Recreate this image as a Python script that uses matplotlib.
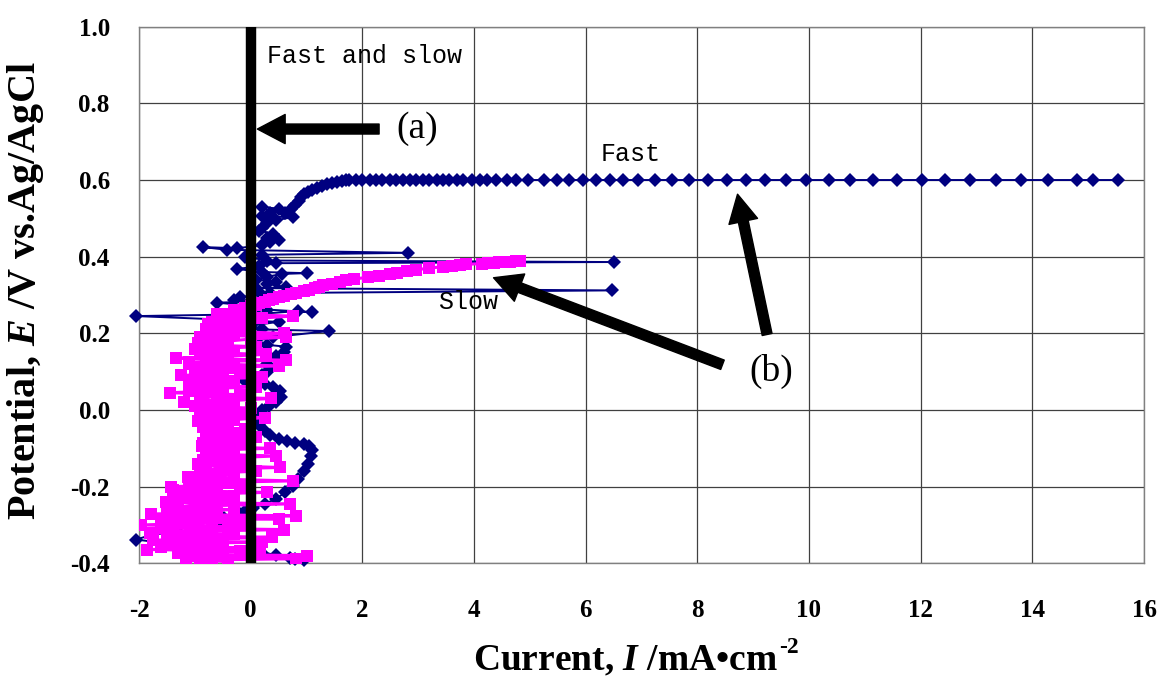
import matplotlib
matplotlib.use("Agg")
import matplotlib.pyplot as plt

plt.rcParams['font.family'] = ['Liberation Serif', 'DejaVu Serif']
plt.rcParams['axes.unicode_minus'] = False
plt.rcParams['mathtext.fontset'] = 'custom'
plt.rcParams['mathtext.rm'] = 'Liberation Serif:bold'
plt.rcParams['mathtext.it'] = 'Liberation Serif:italic:bold'
plt.rcParams['mathtext.bf'] = 'Liberation Serif:bold'

# ---------------- data ----------------
x_ticks = [-2, 0, 2, 4, 6, 8, 10, 12, 14, 16]
x_tick_labels = ['-2', '0', '2', '4', '6', '8', '10', '12', '14', '16']
y_ticks = [-0.4, -0.2, 0.0, 0.2, 0.4, 0.6, 0.8, 1.0]
y_tick_labels = ['-0.4', '-0.2', '0.0', '0.2', '0.4', '0.6', '0.8', '1.0']

# "Fast" scan (navy diamonds)
fast_I = [0.95, 0.80, 0.70, 0.46, 0.21, 0.00, -0.70, -1.40, -2.05, -1.76,
          -1.30, -0.90, -0.50, -0.47, -0.20, -0.08, 0.05, 0.25, 0.45, 0.62,
          0.75, 0.85, 0.95, 1.02, 1.08, 1.10, 1.05, 0.95, 0.80, 0.65,
          0.50, 0.35, 0.25, 0.15, 0.10, 0.12, 0.20, 0.32, 0.45, 0.55,
          0.52, 0.40, 0.25, 0.05, -0.10, 0.05, 0.20, 0.30, 0.35, 0.30,
          0.28, 0.45, 0.60, 0.64, 0.30, 0.10, 0.40, 1.40, 0.20, 0.00,
          0.50, -2.05, 0.10, 0.84, 1.10, 0.30, 0.15, -0.60, 0.25, -0.30, -0.20, 0.20, 0.35,
          6.47, 0.10, 0.64, 0.30, 0.45, 0.10, 0.30, 0.57, 1.00, 0.20, -0.24, 0.15, 0.46,
          6.50, 0.30, -0.11, 0.20, 2.81, -0.43, -0.85, -0.24, 0.20, 0.35, 0.51, 0.30, 0.40, 0.15,
          0.20, 0.30, 0.45, 0.75, 0.20, 0.35, 0.21,
          0.50, 0.62, 0.72, 0.80, 0.87, 0.90, 0.95, 1.02, 1.10, 1.18,
          1.27, 1.36, 1.45, 1.54, 1.63, 1.70,
          1.77, 1.89, 2.00, 2.13, 2.25, 2.36, 2.49, 2.61, 2.72, 2.85,
          2.97, 3.08, 3.20, 3.33, 3.44, 3.56, 3.69, 3.80, 3.96, 4.10,
          4.24, 4.40, 4.59, 4.76, 4.96, 5.26, 5.49, 5.71, 5.95, 6.19,
          6.43, 6.66, 6.93, 7.24, 7.54, 7.85, 8.19, 8.54, 8.87, 9.22,
          9.58, 9.94, 10.35, 10.73, 11.14, 11.57, 12.02, 12.43, 12.88, 13.35,
          13.79, 14.28, 14.80, 15.08, 15.53]
fast_E = [-0.392, -0.388, -0.385, -0.378, -0.372, -0.368, -0.360, -0.350, -0.338, -0.325,
          -0.318, -0.308, -0.298, -0.282, -0.272, -0.262, -0.255, -0.245, -0.232, -0.215,
          -0.198, -0.180, -0.160, -0.140, -0.120, -0.104, -0.095, -0.090, -0.087, -0.082,
          -0.075, -0.066, -0.055, -0.040, -0.026, -0.012, 0.000, 0.010, 0.020, 0.035,
          0.050, 0.060, 0.068, 0.072, 0.075, 0.082, 0.090, 0.100, 0.110, 0.120,
          0.130, 0.140, 0.150, 0.165, 0.170, 0.180, 0.190, 0.206, 0.210, 0.220,
          0.230, 0.245, 0.250, 0.258, 0.255, 0.262, 0.270, 0.280, 0.284, 0.288, 0.295, 0.300, 0.305,
          0.312, 0.318, 0.320, 0.330, 0.335, 0.340, 0.348, 0.355, 0.357, 0.360, 0.368, 0.375, 0.383,
          0.386, 0.390, 0.400, 0.405, 0.410, 0.418, 0.425, 0.422, 0.430, 0.437, 0.443, 0.450, 0.460, 0.468,
          0.475, 0.487, 0.495, 0.503, 0.505, 0.515, 0.530,
          0.525, 0.515, 0.525, 0.535, 0.546, 0.556, 0.563, 0.569, 0.575, 0.580,
          0.585, 0.589, 0.592, 0.595, 0.598, 0.599,
          0.600, 0.600, 0.600, 0.600, 0.600, 0.600, 0.600, 0.600, 0.600, 0.600,
          0.600, 0.600, 0.600, 0.600, 0.600, 0.600, 0.600, 0.600, 0.600, 0.600,
          0.600, 0.600, 0.600, 0.600, 0.600, 0.600, 0.600, 0.600, 0.600, 0.600,
          0.600, 0.600, 0.600, 0.600, 0.600, 0.600, 0.600, 0.600, 0.600, 0.600,
          0.600, 0.600, 0.600, 0.600, 0.600, 0.600, 0.600, 0.600, 0.600, 0.600,
          0.600, 0.600, 0.600, 0.600, 0.600]

# "Slow" scan (magenta squares)
slow_I = [-0.30, -0.60, -0.20, -0.70, -0.40, -0.80, -0.30, -0.90, -0.50, -0.70,
          -1.00, -0.40, -0.80, -0.60, -1.10, -0.30, -0.90, -0.70, -1.00, -0.40,
          -0.80, -1.10, -0.50, -0.90, -0.60, -0.80, -0.30, -0.70, -0.50, -0.80,
          -0.40, -0.70, -0.50, -0.80, -0.60, -0.30, -0.70, -0.50, -0.75, -0.40,
          -0.80, -0.50, -0.90, -0.60, -1.00, -0.40, -1.10, -0.70, -1.20, -0.50,
          -1.30, -0.80, -1.40, -0.60, -1.50, -1.00, -1.60, -0.70, -1.40, -1.10,
          -1.50, -0.80, -1.30, -0.50, -1.00, -0.70,
          -0.40, -1.15, 0.82, -0.90, 1.00, -0.60, -1.30, -0.20, -1.85, 0.16,
          -1.60, -0.50, -1.20, 0.20, -1.75, -0.80, 0.39, -1.40, -0.30, -1.80,
          -0.90, 0.60, -1.50, -0.40, -1.96, -1.10, -0.20, -1.60, 0.50, -1.30,
          0.82, -1.78, -0.70, -1.20, -0.30, -1.50, -0.80, 0.70, -1.51, -0.50,
          -1.20, -0.30, -1.00, 0.30, -1.40, -0.60, -1.42, -0.20, -1.00, 0.75,
          -0.70, -1.13, -0.30, -0.90, 0.10, -0.80, 0.52, -0.50, -0.95, -0.20,
          -0.86, -0.40, 0.45, -0.80, -0.30, -0.70, 0.35, -0.88, -0.40, -0.86,
          -0.20, -0.60, 0.10, -0.80, -0.30, -0.70, -0.10, -0.85, -0.40, -0.60,
          -0.95, -0.30, 0.25, -0.70, -0.20, -0.90, -0.50, 0.00, -1.00, -0.40,
          -1.19, -0.30, 0.37, -0.90, -0.20, -1.45, -0.60, -1.00, 0.10, -0.70,
          -1.10, -0.30, -0.90, 0.20, -1.24, -0.50, -1.00, -0.20, -0.80, 0.51,
          -0.60, -1.10, 0.64, -1.33, -0.50, 0.28, -0.90, -0.30, -0.70, 0.10,
          -0.80, -0.95, -0.40, 0.00, 0.64, -0.60, 0.60, -0.40, -0.70, -0.20,
          -0.50, -0.77, -0.10, -0.60, 0.20, 0.75, -0.40, -0.30, -0.20, -0.10,
          0.00, 0.10, 0.15, 0.25, 0.32, 0.40, 0.50, 0.60, 0.72, 0.82,
          0.95, 1.05, 1.15, 1.22, 1.30, 1.45, 1.60, 1.70, 1.85, 2.10,
          2.30, 2.50, 2.62, 2.80, 2.97, 3.20, 3.45, 3.60, 3.75, 3.85,
          4.15, 4.25, 4.35, 4.45, 4.55, 4.65, 4.75, 4.82]
slow_E = [0.260, 0.250, 0.240, 0.230, 0.220, 0.210, 0.200, 0.190, 0.180, 0.170,
          0.160, 0.150, 0.140, 0.130, 0.120, 0.110, 0.100, 0.090, 0.080, 0.070,
          0.060, 0.050, 0.040, 0.030, 0.020, 0.010, 0.000, -0.010, -0.020, -0.030,
          -0.040, -0.050, -0.060, -0.070, -0.080, -0.090, -0.100, -0.110, -0.120, -0.130,
          -0.140, -0.150, -0.160, -0.170, -0.180, -0.190, -0.200, -0.210, -0.220, -0.230,
          -0.240, -0.250, -0.260, -0.270, -0.280, -0.290, -0.300, -0.310, -0.320, -0.330,
          -0.340, -0.350, -0.360, -0.370, -0.380, -0.390,
          -0.395, -0.392, -0.388, -0.385, -0.380, -0.377, -0.372, -0.368, -0.364, -0.360,
          -0.357, -0.352, -0.348, -0.345, -0.340, -0.336, -0.332, -0.328, -0.324, -0.320,
          -0.316, -0.312, -0.308, -0.304, -0.300, -0.296, -0.292, -0.288, -0.284, -0.280,
          -0.276, -0.272, -0.268, -0.264, -0.260, -0.255, -0.250, -0.245, -0.240, -0.235,
          -0.230, -0.225, -0.220, -0.215, -0.210, -0.205, -0.200, -0.195, -0.190, -0.185,
          -0.180, -0.175, -0.170, -0.165, -0.160, -0.155, -0.150, -0.145, -0.140, -0.135,
          -0.130, -0.125, -0.120, -0.115, -0.110, -0.105, -0.100, -0.095, -0.090, -0.085,
          -0.080, -0.075, -0.070, -0.065, -0.060, -0.055, -0.050, -0.045, -0.040, -0.035,
          -0.030, -0.025, -0.020, -0.015, -0.010, -0.005, 0.000, 0.005, 0.010, 0.015,
          0.020, 0.025, 0.030, 0.035, 0.040, 0.045, 0.050, 0.055, 0.060, 0.065,
          0.070, 0.075, 0.080, 0.085, 0.090, 0.095, 0.100, 0.105, 0.110, 0.115,
          0.120, 0.125, 0.130, 0.135, 0.140, 0.145, 0.150, 0.155, 0.160, 0.165,
          0.170, 0.175, 0.180, 0.185, 0.190, 0.195, 0.200, 0.205, 0.210, 0.215,
          0.220, 0.225, 0.230, 0.235, 0.240, 0.245, 0.250, 0.255, 0.260, 0.265,
          0.270, 0.274, 0.278, 0.282, 0.286, 0.290, 0.294, 0.298, 0.302, 0.306,
          0.310, 0.314, 0.318, 0.322, 0.326, 0.330, 0.334, 0.338, 0.342, 0.346,
          0.350, 0.354, 0.358, 0.362, 0.366, 0.370, 0.374, 0.376, 0.378, 0.380,
          0.382, 0.383, 0.384, 0.385, 0.386, 0.387, 0.388, 0.389]

# "Fast and slow" (a): zero current line
zero_I = [0.0, 0.0]
zero_E = [-0.4, 1.0]

# ---------------- figure ----------------
fig = plt.figure(figsize=(11.62, 6.81), dpi=100)
ax = fig.add_axes([139 / 1162, 1 - 563.3 / 681, (1144 - 139) / 1162, (563.3 - 26.7) / 681])

ax.plot(fast_I, fast_E, color='#000080', lw=1.4, marker='D', ms=7.0,
        markeredgewidth=0, zorder=3, clip_on=False)
ax.plot(slow_I, slow_E, color='#FF00FF', lw=2.2, marker='s', ms=8.8,
        markeredgewidth=0, zorder=4)
ax.plot(zero_I, zero_E, color='black', lw=7.5, solid_capstyle='butt', zorder=5)

ax.set_xlim(-2, 16)
ax.set_ylim(-0.4, 1.0)
ax.set_xticks(x_ticks)
ax.set_xticklabels(x_tick_labels)
ax.set_yticks(y_ticks)
ax.set_yticklabels(y_tick_labels)
ax.tick_params(axis='both', length=0, labelsize=18)
ax.tick_params(axis='x', pad=26)
ax.tick_params(axis='y', pad=21)
for lab in ax.get_xticklabels() + ax.get_yticklabels():
    lab.set_fontweight('bold')

ax.grid(True, color='#404040', lw=0.9)
ax.set_axisbelow(True)
for s in ax.spines.values():
    s.set_color('#808080')
    s.set_linewidth(1.0)

# axis labels
xl = fig.text(473 / 1162, 1 - 670 / 681, r'Current, $\mathit{I}$ /mA•cm',
              ha='left', va='baseline', fontsize=27, fontweight='bold')
ax.annotate('-2', xy=(1.0, 1.0), xycoords=xl, ha='left', va='top',
            fontsize=17, fontweight='bold', xytext=(1, 4), textcoords='offset points')
fig.text(26 / 1162, 1 - 291 / 681, r'Potential, $\mathit{E}$ /V vs.Ag/AgCl',
         rotation=90, ha='center', va='center', fontsize=29, fontweight='bold')

# annotations
mono = ['Liberation Mono', 'DejaVu Sans Mono']
ax.text(0.3, 0.924, 'Fast and slow', family=mono, fontsize=18, ha='left', va='center')
ax.text(6.8, 0.667, 'Fast', family=mono, fontsize=18, ha='center', va='center')
ax.text(3.9, 0.283, 'Slow', family=mono, fontsize=18, ha='center', va='center')
ax.text(2.98, 0.733, '(a)', fontsize=27, ha='center', va='center')
ax.text(9.32, 0.10, '(b)', fontsize=27, ha='center', va='center')

arrow_style = 'simple,head_length=1.0,head_width=1.05,tail_width=0.36'
arrow_kw = dict(arrowstyle=arrow_style, color='black', mutation_scale=20,
                shrinkA=0, shrinkB=0)
ax.annotate('', xy=(0.12, 0.733), xytext=(2.3, 0.733), arrowprops=arrow_kw, zorder=6)
ax.annotate('', xy=(4.35, 0.345), xytext=(8.45, 0.118), arrowprops=arrow_kw, zorder=6)
ax.annotate('', xy=(8.72, 0.563), xytext=(9.25, 0.197), arrowprops=arrow_kw, zorder=6)

fig.savefig('out.png', dpi=100)
